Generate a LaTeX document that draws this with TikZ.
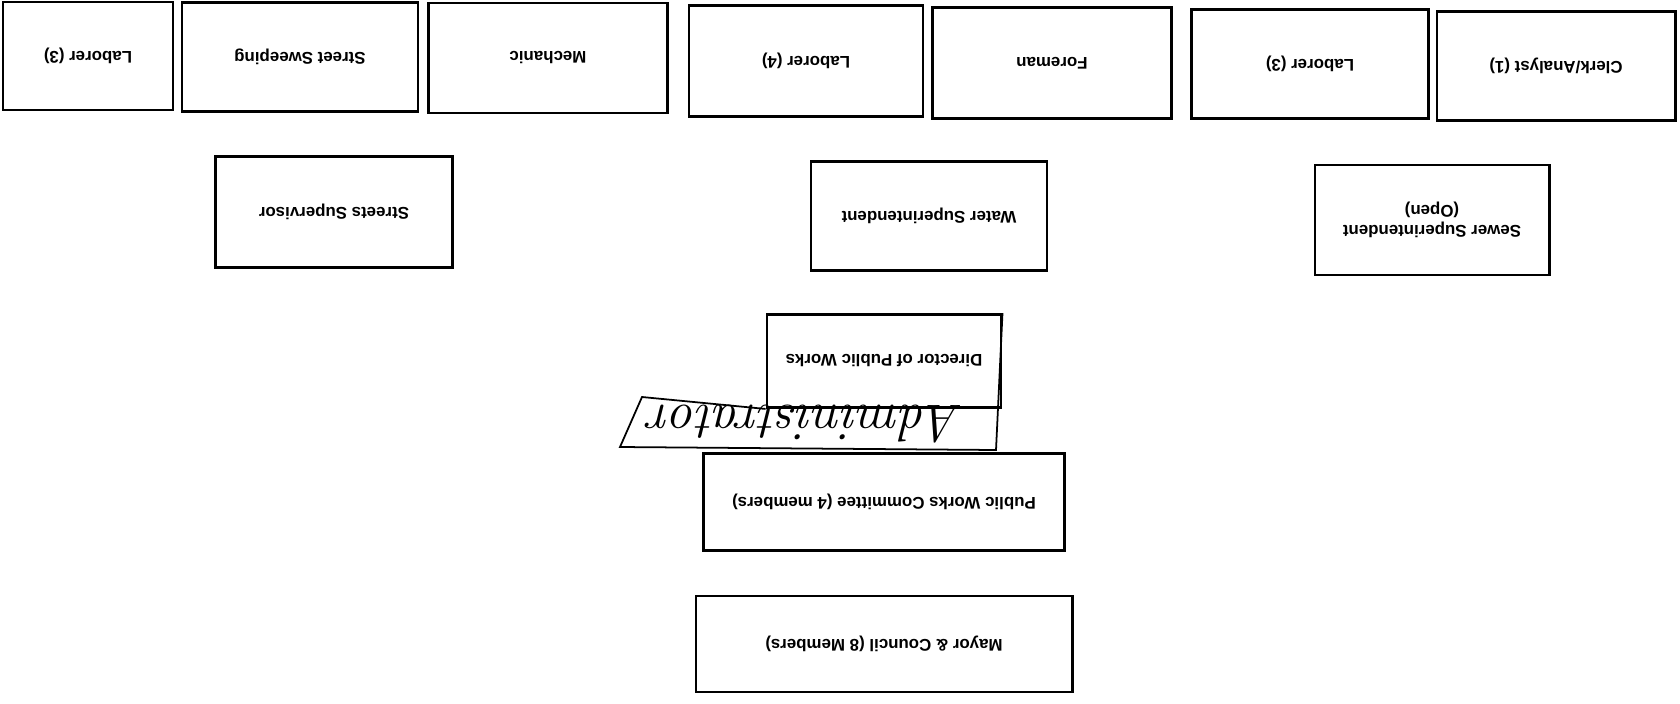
\documentclass[tikz,border=0pt]{standalone}
\usepackage{fontspec}
\setsansfont{Liberation Sans}
\tikzset{
  orgbox/.style={draw, line width=.8pt, rotate=180, inner sep=1pt, align=center,
    minimum width=2.37cm, minimum height=1.09cm,
    font=\sffamily\bfseries\fontsize{4.8}{5.8}\selectfont},
  handtext/.style={rotate=180, inner sep=0pt,
    font=\rmfamily\itshape\fontsize{15}{17}\selectfont\addfontfeature{LetterSpace=24}}
}
\begin{document}
\begin{tikzpicture}[x=.01cm, y=-.01cm]
\useasboundingbox (0,0) rectangle (1680,703);
% top row
\node[orgbox, minimum width=1.70cm, minimum height=1.08cm] (lab3a) at (88,56) {Laborer (3)};
\node[orgbox, minimum width=2.36cm] (sweep) at (300,57) {Street Sweeping};
\node[orgbox, minimum width=2.39cm, minimum height=1.10cm] (mech) at (548,58) {Mechanic};
\node[orgbox, minimum width=2.34cm, minimum height=1.11cm] (lab4) at (806,61) {Laborer (4)};
\node[orgbox, minimum width=2.39cm, minimum height=1.11cm] (fore) at (1052,63) {Foreman};
\node[orgbox] (lab3b) at (1310,64) {Laborer (3)};
\node[orgbox, minimum width=2.38cm] (clerk) at (1556,66) {Clerk/Analyst (1)};
% supervisors
\node[orgbox, minimum height=1.11cm] (strsup) at (334,212) {Streets Supervisor};
\node[orgbox, minimum width=2.36cm] (watsup) at (929,216) {Water Superintendent};
\node[orgbox, minimum width=2.34cm, minimum height=1.10cm] (sewsup) at (1432,220) {Sewer Superintendent\\(Open)};
% director and above
\node[orgbox, minimum width=2.34cm, minimum height=.93cm] (dir) at (884,361) {Director of Public Works};
\node[orgbox, minimum width=3.61cm, minimum height=.97cm] (pwc) at (884,502) {Public Works Committee (4 members)};
\node[orgbox, minimum width=3.76cm, minimum height=.96cm] (mayor) at (884,644) {Mayor \& Council (8 Members)};
% handwritten note
\draw[line width=.5pt] (dir.north east) -- (642,397) -- (620,447) -- (996,450) -- (dir.south west);
\node[handtext] (admin) at (806,424) {Administrator};
\end{tikzpicture}
\end{document}
